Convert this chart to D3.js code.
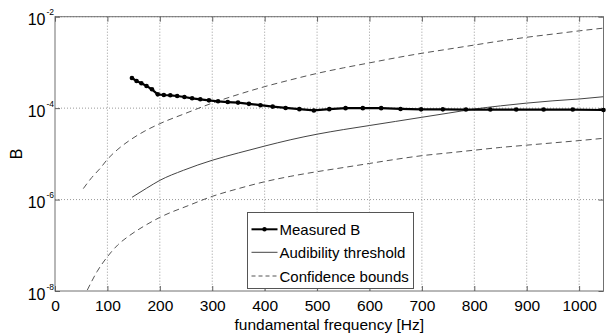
<!DOCTYPE html>
<html><head><meta charset="utf-8">
<script src="https://cdn.jsdelivr.net/npm/d3@7"></script>
<style>
body{margin:0;background:#fff;}
text{font-family:"Liberation Sans",Arial,sans-serif;fill:#000;}
</style></head>
<body><svg id="c" width="607" height="336"></svg>
<script>
// Measured B at semitone frequencies D3..C6 (Hz)
const measuredF = [146.8,155.6,164.8,174.6,185.0,196.0,207.7,220.0,233.1,246.9,261.6,277.2,293.7,311.1,329.6,349.2,370.0,392.0,415.3,440.0,466.2,493.9,523.3,554.4,587.3,622.3,659.3,698.5,740.0,784.0,830.6,880.0,932.3,987.8,1046.5];
const measuredB = [4.56e-4,3.92e-4,3.49e-4,3.05e-4,2.58e-4,2.00e-4,1.94e-4,1.91e-4,1.84e-4,1.75e-4,1.64e-4,1.56e-4,1.48e-4,1.41e-4,1.36e-4,1.32e-4,1.24e-4,1.16e-4,1.08e-4,1.01e-4,9.5e-5,8.9e-5,9.5e-5,1.0e-4,1.0e-4,1.0e-4,9.6e-5,9.4e-5,9.4e-5,9.3e-5,9.3e-5,9.3e-5,9.3e-5,9.3e-5,9.1e-5];

const threshF = [147,175,200,245,300,350,400,450,500,550,600,650,700,750,800,850,900,950,1000,1046.5];
const threshLog = [-5.95,-5.75,-5.58,-5.36,-5.14,-4.98,-4.83,-4.69,-4.57,-4.47,-4.38,-4.29,-4.20,-4.11,-4.02,-3.95,-3.89,-3.84,-3.80,-3.75];

const upperF = [54,70,86,100,120,143,170,200,250,300,350,400,450,500,550,600,650,700,750,800,850,900,950,1000,1046.5];
const upperLog = [-5.76,-5.52,-5.32,-5.12,-4.90,-4.70,-4.51,-4.34,-4.11,-3.89,-3.70,-3.53,-3.38,-3.24,-3.12,-3.01,-2.90,-2.80,-2.71,-2.62,-2.53,-2.45,-2.38,-2.31,-2.25];

const lowerF = [61.6,80,100,120,143,170,200,257,300,350,400,450,500,550,600,650,700,750,800,850,900,950,1000,1046.5];
const lowerLog = [-7.98,-7.58,-7.25,-6.99,-6.78,-6.58,-6.39,-6.12,-5.93,-5.76,-5.61,-5.49,-5.39,-5.30,-5.21,-5.12,-5.04,-4.98,-4.92,-4.86,-4.81,-4.76,-4.71,-4.66];

const xTicks = [0,100,200,300,400,500,600,700,800,900,1000];
const yTicks = [-8,-6,-4,-2];
const legendLabels = ["Measured B","Audibility threshold","Confidence bounds"];

const svg = d3.select("#c");
const L=55,R=603.5,T=16.7,B=291;
const x = d3.scaleLinear().domain([0,1046.5]).range([L,R]);
const y = d3.scaleLog().domain([1e-8,1e-2]).range([B,T]);

svg.append("defs").append("clipPath").attr("id","clip")
  .append("rect").attr("x",L).attr("y",T).attr("width",R-L).attr("height",B-T);

// grid
const g = svg.append("g");
xTicks.filter(d=>d>0).forEach(d=>{
  g.append("line").attr("x1",x(d)).attr("x2",x(d)).attr("y1",T).attr("y2",B)
   .attr("stroke","#9a9a9a").attr("stroke-width",1).attr("stroke-dasharray","1,2");
});
yTicks.filter(d=>d>-8).forEach(d=>{
  g.append("line").attr("x1",L).attr("x2",R).attr("y1",y(Math.pow(10,d))).attr("y2",y(Math.pow(10,d)))
   .attr("stroke","#9a9a9a").attr("stroke-width",1).attr("stroke-dasharray","1,2");
});

// box
svg.append("rect").attr("x",L).attr("y",T).attr("width",R-L).attr("height",B-T)
  .attr("fill","none").attr("stroke","#707070").attr("stroke-width",1);

// axes ticks
const xAxB = d3.axisBottom(x).tickValues(xTicks).tickSize(-5).tickPadding(10).tickFormat(d3.format("d"));
const gx = svg.append("g").attr("transform",`translate(0,${B})`).call(xAxB);
gx.select(".domain").remove();
gx.selectAll("line").attr("stroke","#606060");
gx.selectAll("text").attr("font-size",15.5).attr("font-family","Liberation Sans, Arial, sans-serif").attr("dy","0.71em").attr("y",9);
const gxt = svg.append("g").attr("transform",`translate(0,${T})`).call(d3.axisTop(x).tickValues(xTicks).tickSize(-5).tickFormat(""));
gxt.select(".domain").remove();
gxt.selectAll("line").attr("stroke","#606060");

const yv = yTicks.map(d=>Math.pow(10,d));
const gyl = svg.append("g").attr("transform",`translate(${L},0)`).call(d3.axisLeft(y).tickValues(yv).tickSize(-5).tickFormat(""));
gyl.select(".domain").remove(); gyl.selectAll("line").attr("stroke","#606060");
const gyr = svg.append("g").attr("transform",`translate(${R},0)`).call(d3.axisRight(y).tickValues(yv).tickSize(-5).tickFormat(""));
gyr.select(".domain").remove(); gyr.selectAll("line").attr("stroke","#606060");

yTicks.forEach(d=>{
  const py = y(Math.pow(10,d));
  svg.append("text").attr("x",45.5).attr("y",py+8.5).attr("text-anchor","end").attr("font-size",16).text("10");
  svg.append("text").attr("x",46.5).attr("y",py-1.5).attr("text-anchor","start").attr("font-size",8.5).text(String(d));
});

// axis labels
svg.append("text").attr("x",(L+R)/2).attr("y",329.5).attr("text-anchor","middle").attr("font-size",15.5).text("fundamental frequency [Hz]");
svg.append("text").attr("transform","translate(21.5,154) rotate(-90)").attr("text-anchor","middle").attr("font-size",16).text("B");

// curves
const plot = svg.append("g").attr("clip-path","url(#clip)");
const lineLog = d3.line().curve(d3.curveMonotoneX).x(d=>x(d[0])).y(d=>y(Math.pow(10,d[1])));
plot.append("path").datum(d3.zip(upperF,upperLog)).attr("d",lineLog)
  .attr("fill","none").attr("stroke","#555").attr("stroke-width",1).attr("stroke-dasharray","6,4");
plot.append("path").datum(d3.zip(lowerF,lowerLog)).attr("d",lineLog)
  .attr("fill","none").attr("stroke","#555").attr("stroke-width",1).attr("stroke-dasharray","6,4");
plot.append("path").datum(d3.zip(threshF,threshLog)).attr("d",lineLog)
  .attr("fill","none").attr("stroke","#444").attr("stroke-width",1);

const mline = d3.line().x(d=>x(d[0])).y(d=>y(d[1]));
const mdata = d3.zip(measuredF,measuredB);
svg.append("path").datum(mdata).attr("d",mline).attr("fill","none").attr("stroke","#000").attr("stroke-width",2.2);
svg.append("g").selectAll("circle").data(mdata).join("circle")
  .attr("cx",d=>x(d[0])).attr("cy",d=>y(d[1])).attr("r",2.3).attr("fill","#000");

// legend
const lg = svg.append("g");
lg.append("rect").attr("x",247.5).attr("y",212.5).attr("width",166).attr("height",76)
  .attr("fill","#fff").attr("stroke","#555").attr("stroke-width",1);
const rows=[229.3,252.3,276];
const styles=[{c:"#000",w:2,da:null},{c:"#444",w:1,da:null},{c:"#555",w:1,da:"4,3"}];
legendLabels.forEach((t,i)=>{
  const s=styles[i];
  const ln = lg.append("line").attr("x1",251.5).attr("x2",277.5).attr("y1",rows[i]).attr("y2",rows[i])
    .attr("stroke",s.c).attr("stroke-width",s.w);
  if(s.da) ln.attr("stroke-dasharray",s.da);
  if(i===0) lg.append("circle").attr("cx",264.5).attr("cy",rows[i]).attr("r",2.2).attr("fill","#000");
  lg.append("text").attr("x",279.5).attr("y",rows[i]+5.5).attr("font-size",15).text(t);
});
</script></body></html>
